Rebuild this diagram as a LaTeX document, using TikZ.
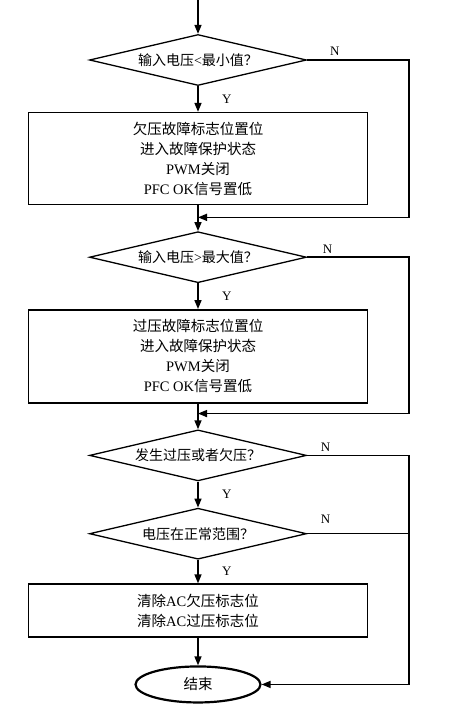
\documentclass[tikz,border=0pt]{standalone}
\usepackage{fontspec}
\setmainfont{Liberation Serif}
\newfontfamily\cjk{Noto Sans CJK SC}
\newcommand{\zw}[1]{{\cjk #1}}
\usepackage{tikz}
\usetikzlibrary{positioning, arrows.meta, shapes, shapes.geometric}

\tikzset{
	decision/.style={diamond, draw, line width=1.3pt, aspect=4, inner sep=0pt,
		minimum width=217pt, minimum height=51pt, font=\fontsize{14}{18}\selectfont},
	process/.style={rectangle, draw, line width=1.5pt, minimum width=339pt,
		align=center, font=\fontsize{14.5}{20}\selectfont},
	terminal/.style={ellipse, draw, line width=2.2pt, minimum width=125pt,
		minimum height=36pt, font=\fontsize{14.5}{20}\selectfont},
	yn/.style={font=\fontsize{13}{15}\selectfont},
}

\begin{document}
\begin{tikzpicture}[->, >={Triangle[length=9pt, width=7pt]}, line width=1.5pt, node distance=25.7pt]
		\useasboundingbox (0,0) rectangle (452pt,-714pt);
		
		\coordinate (start) at (198pt,0pt);
		\node[decision] (lowcheck) at (198pt,-60pt) {\zw{输入电压}<\zw{最小值？}};
		\draw (start) -- (lowcheck);
		
		\node[process, minimum height=92pt, below = of lowcheck] (lowset)
			{\zw{欠压故障标志位置位}\\\zw{进入故障保护状态}\\PWM\zw{关闭}\\PFC OK\zw{信号置低}};
		\draw (lowcheck) -- node[yn, right = 20pt] {Y} (lowset);
		
		\node[decision, below = of lowset] (highcheck) {\zw{输入电压}>\zw{最大值？}};
		\coordinate[below = 12pt of lowset] (lowjoin);
		\draw (lowset) -- (highcheck);
		\draw (lowcheck.east) -- node[yn, pos=0.27, above] {N} ++(102pt,0) |- (lowjoin);
		
		\node[process, minimum height=93pt, below = of highcheck] (highset)
			{\zw{过压故障标志位置位}\\\zw{进入故障保护状态}\\PWM\zw{关闭}\\PFC OK\zw{信号置低}};
		\draw (highcheck) -- node[yn, right = 20pt] {Y} (highset);
		
		\node[decision, below = of highset] (faultcheck) {\zw{发生过压或者欠压？}};
		\coordinate[below = 10pt of highset] (highjoin);
		\draw (highset) -- (faultcheck);
		\draw (highcheck.east) -- node[yn, pos=0.2, above] {N} ++(102pt,0) |- (highjoin);
		
		\node[decision, below = 26pt of faultcheck] (normcheck) {\zw{电压在正常范围？}};
		\draw (faultcheck) -- node[yn, right = 20pt] {Y} (normcheck);
		
		\node[process, minimum height=53pt, below = 23.5pt of normcheck] (clearflag)
			{\zw{清除}AC\zw{欠压标志位}\\\zw{清除}AC\zw{过压标志位}};
		\draw (normcheck) -- node[yn, right = 20pt] {Y} (clearflag);
		
		\node[terminal, below = 27.5pt of clearflag] (finish) {\zw{结束}};
		\draw (clearflag) -- (finish);
		
		\draw (faultcheck.east) -- node[yn, pos=0.18, above] {N} ++(102pt,0) |- (finish.east);
		\draw[-] (normcheck.east) -- node[yn, pos=0.18, above=6pt] {N} ++(102pt,0);
		
	\end{tikzpicture}
\end{document}
